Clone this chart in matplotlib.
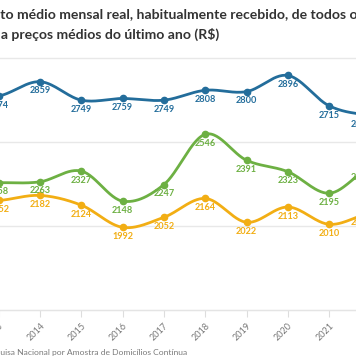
import numpy as np
import matplotlib
matplotlib.use("Agg")
import matplotlib.pyplot as plt

years = [2013, 2014, 2015, 2016, 2017, 2018, 2019, 2020, 2021, 2022]
serie_azul = [2774, 2859, 2749, 2759, 2749, 2808, 2800, 2896, 2715, 2660]
serie_verde = [2258, 2263, 2327, 2148, 2247, 2546, 2391, 2323, 2195, 2345]
serie_amarela = [2152, 2182, 2124, 1992, 2052, 2164, 2022, 2113, 2010, 2075]
y_grid = [1500, 2000, 2500, 3000]

title_l1 = "Rendimento médio mensal real, habitualmente recebido, de todos os trabalhos,"
title_l1_hidden = "Rendimen"
title_l2 = "das pessoas ocupadas, a preços médios do último ano (R$)"
title_l2_hidden = "das pessoas ocupadas, "
source = "Fonte: IBGE - Pesquisa Nacional por Amostra de Domicílios Contínua"
source_hidden = "Fonte: IBGE - Pesq"

colors = ["#236d9b", "#6db043", "#f2ae14"]

W, H = 356, 364
fig = plt.figure(figsize=(W / 100, H / 100), dpi=100)
fig.patch.set_facecolor("white")

px_per_year = 41.32
x2013 = -1.3
px_per_val = 0.168
y2500 = 142.0
L, R = -40.0, 400.0
xl = 2013 + (L - x2013) / px_per_year
xr = 2013 + (R - x2013) / px_per_year
yt = 2500 + y2500 / px_per_val
yb = 2500 - (H - y2500) / px_per_val

ax = fig.add_axes([L / W, 0, (R - L) / W, 1])
ax.set_facecolor("none")
for s in ["top", "right", "left"]:
    ax.spines[s].set_visible(False)
ax.spines["bottom"].set_position(("data", 1500))
ax.spines["bottom"].set_color("#e4e4e4")
ax.set_yticks(y_grid)
ax.tick_params(axis="y", length=0, labelleft=False)
ax.yaxis.grid(True, color="#e8e8e8", linewidth=1)
ax.set_axisbelow(True)
ax.set_xticks(years)
ax.tick_params(axis="x", length=5, color="#dddddd", labelsize=6.5, labelcolor="#777777", pad=3)
for lab in ax.get_xticklabels():
    lab.set_rotation(45)
    lab.set_ha("right")
    lab.set_rotation_mode("anchor")
    lab.set_family("Lato")


def catmull(xs, ys, n=30):
    xs = np.asarray(xs, float)
    ys = np.asarray(ys, float)
    P = np.concatenate([[ys[0]], ys, [ys[-1]]])
    ox, oy = [], []
    for i in range(len(xs) - 1):
        t = np.linspace(0, 1, n)
        p0, p1, p2, p3 = P[i], P[i + 1], P[i + 2], P[i + 3]
        y = 0.5 * (2 * p1 + (-p0 + p2) * t + (2 * p0 - 5 * p1 + 4 * p2 - p3) * t ** 2
                   + (-p0 + 3 * p1 - 3 * p2 + p3) * t ** 3)
        x = xs[i] + (xs[i + 1] - xs[i]) * t
        ox.append(x)
        oy.append(y)
    return np.concatenate(ox), np.concatenate(oy)


for vals, c in zip([serie_azul, serie_verde, serie_amarela], colors):
    sx, sy = catmull(years, vals)
    ax.plot(sx, sy, color=c, linewidth=2.0, solid_capstyle="round", zorder=3)
    ax.plot(years, vals, "o", color=c, markersize=4.5, zorder=4)
    for i, (x, v) in enumerate(zip(years, vals)):
        dx = -9 * 0.72 if i == len(years) - 1 else 0
        ax.annotate(str(v), (x, v), xytext=(dx, -6.6), textcoords="offset points",
                    ha="center", va="center", fontsize=6.6, fontweight="bold",
                    color=c, family="Lato", zorder=5, annotation_clip=False)

ax.set_xlim(xl, xr)
ax.set_ylim(yb, yt)

fig.canvas.draw()
renderer = fig.canvas.get_renderer()


def place(text, hidden, x_px, y_px, **kw):
    t = fig.text(0, 0, hidden, **kw)
    w = t.get_window_extent(renderer).width
    t.remove()
    fig.text((x_px - w) / W, 1 - y_px / H, text, va="baseline", ha="left", **kw)


tkw = dict(fontsize=10.1, fontweight="bold", color="#333333", family="Lato")
place(title_l1, title_l1_hidden, 0, 18.5, **tkw)
place(title_l2, title_l2_hidden, 0.8, 38.5, **tkw)
place(source, source_hidden, 0.5, 354.5, fontsize=6.1, color="#7a7a7a", family="Lato")

fig.savefig("out.png", dpi=100, facecolor="white")
